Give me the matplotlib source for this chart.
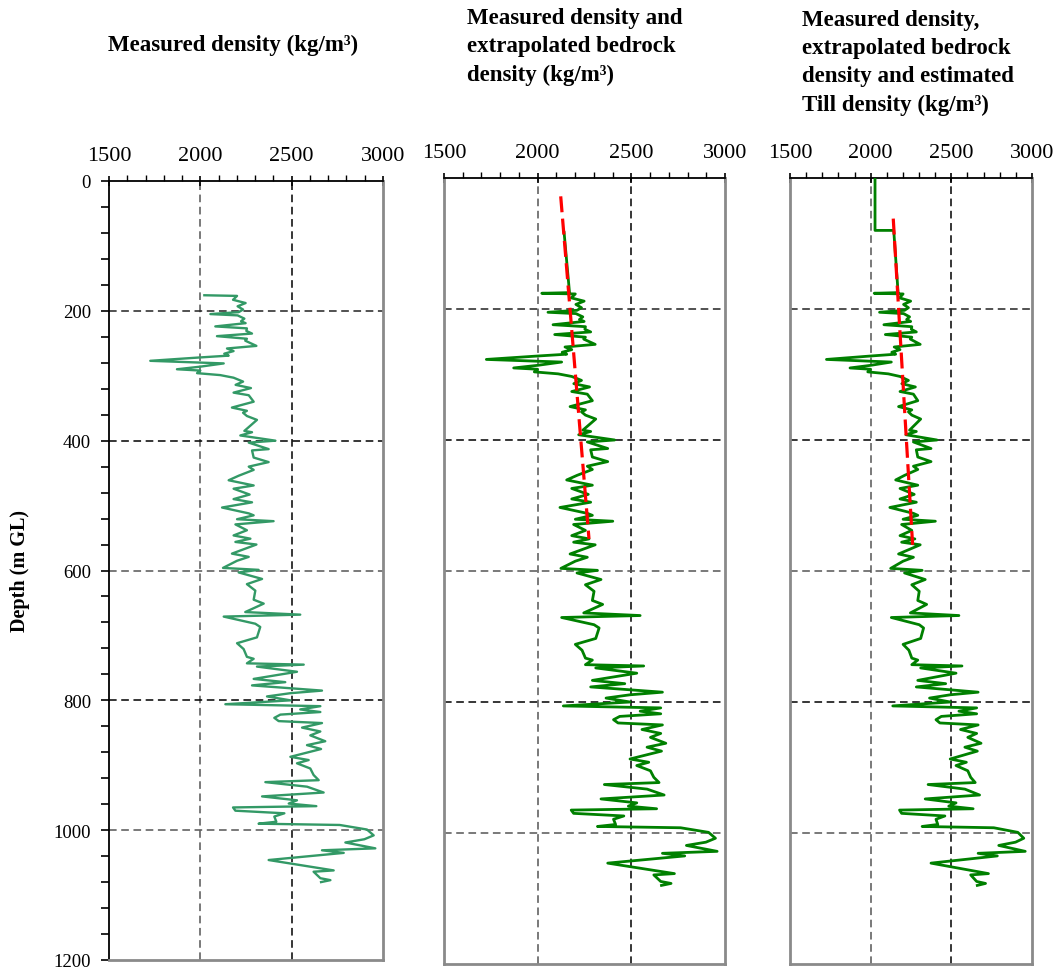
import matplotlib
matplotlib.use('Agg')
import matplotlib.pyplot as plt
from matplotlib.ticker import MultipleLocator

plt.rcParams['font.family'] = ['Liberation Serif', 'DejaVu Serif']

# ---------------- data ----------------
depth = [176, 177, 183, 188, 193, 198, 202, 205, 207, 212, 216, 219, 224, 227, 231, 235, 239, 243, 246, 254,
         258, 262, 266, 269, 272, 277, 281, 286, 290, 292, 296, 299, 303, 309, 314, 319, 326, 330, 340, 349,
         354, 357, 362, 368, 385, 387, 392, 400, 403, 413, 415, 426, 433, 440, 445, 454, 461, 469, 474, 483,
         490, 495, 503, 512, 515, 521, 524, 529, 538, 546, 551, 556, 560, 574, 579, 585, 596, 599, 603, 613,
         621, 631, 645, 651, 664, 668, 671, 682, 687, 703, 712, 721, 733, 736, 743, 745, 748, 756, 767, 772,
         777, 785, 789, 794, 800, 806, 809, 814, 818, 822, 827, 832, 835, 842, 848, 854, 863, 869, 875, 887,
         892, 897, 905, 915, 923, 926, 933, 942, 948, 954, 959, 963, 965, 970, 974, 979, 987, 990, 992, 999,
         1008, 1014, 1019, 1028, 1031, 1035, 1046, 1062, 1064, 1074, 1077, 1080]
density = [2022, 2201, 2179, 2248, 2204, 2234, 2210, 2055, 2204, 2241, 2223, 2248, 2082, 2255, 2252, 2283, 2091, 2255, 2246, 2307,
           2146, 2182, 2131, 2155, 1987, 1726, 2128, 2000, 1872, 2000, 1982, 2109, 2182, 2234, 2193, 2277, 2182, 2265, 2292, 2173,
           2255, 2234, 2255, 2310, 2241, 2283, 2219, 2411, 2265, 2374, 2283, 2292, 2374, 2265, 2292, 2210, 2155, 2292, 2182, 2270,
           2182, 2283, 2119, 2265, 2292, 2201, 2401, 2192, 2255, 2182, 2274, 2192, 2307, 2173, 2265, 2201, 2124, 2319, 2210, 2338,
           2255, 2301, 2292, 2347, 2246, 2547, 2128, 2301, 2328, 2310, 2201, 2237, 2255, 2292, 2255, 2566, 2310, 2529, 2292, 2465,
           2283, 2666, 2493, 2365, 2493, 2137, 2657, 2547, 2657, 2438, 2405, 2429, 2666, 2557, 2657, 2602, 2684, 2584, 2661, 2493,
           2593, 2529, 2602, 2620, 2648, 2356, 2584, 2675, 2338, 2529, 2484, 2635, 2179, 2192, 2460, 2405, 2416, 2319, 2763, 2912,
           2949, 2898, 2794, 2958, 2666, 2785, 2374, 2730, 2620, 2657, 2712, 2661]

# extrapolated bedrock density (red dashed line)
bedrock_depth_p2 = [28, 551]
bedrock_dens_p2 = [2123, 2274]
bedrock_depth_p3 = [62, 560]
bedrock_dens_p3 = [2140, 2260]

# prepended segments of the green curve
p2_top_depth = [83, 175]
p2_top_dens = [2141, 2170]
p3_top_depth = [0, 80, 80, 175]
p3_top_dens = [2027, 2027, 2143, 2170]

x_ticks = [1500, 2000, 2500, 3000]
y_ticks = [0, 200, 400, 600, 800, 1000, 1200]

titles = ['Measured density (kg/m³)',
          'Measured density and\nextrapolated bedrock\ndensity (kg/m³)',
          'Measured density,\nextrapolated bedrock\ndensity and estimated\nTill density (kg/m³)']

# ---------------- figure ----------------
W, H = 1055, 970
fig = plt.figure(figsize=(W / 100, H / 100), dpi=100)


def add_ax(l, r, t, b):
    return fig.add_axes([l / W, 1 - b / H, (r - l) / W, (b - t) / H])


ax1 = add_ax(109, 383, 182, 961)
ax2 = add_ax(444, 725, 179, 965)
ax3 = add_ax(790, 1032, 179, 965)

dash = (0, (5, 3))
for i, ax in enumerate([ax1, ax2, ax3]):
    ax.set_xlim(1500, 3000)
    ax.set_ylim(1200, 0)
    ax.xaxis.tick_top()
    ax.set_xticks(x_ticks)
    ax.xaxis.set_minor_locator(MultipleLocator(100))
    ax.tick_params(axis='x', which='major', direction='inout', length=7, width=1.2,
                   labelsize=16, pad=8)
    ax.tick_params(axis='x', which='minor', direction='out', length=4, width=1.0)
    for s in ['right', 'bottom']:
        ax.spines[s].set_color('#8a8a8a')
        ax.spines[s].set_linewidth(2.0)
    ax.spines['top'].set_color('black')
    ax.spines['top'].set_linewidth(1.3)
    if i == 0:
        ax.set_yticks(y_ticks)
        ax.yaxis.set_minor_locator(MultipleLocator(40))
        ax.tick_params(axis='y', which='both', direction='out', length=6, width=1.2,
                       labelsize=13.5, pad=7)
        ax.spines['left'].set_color('black')
        ax.spines['left'].set_linewidth(1.3)
    else:
        ax.set_yticks([])
        ax.spines['left'].set_color('#8a8a8a')
        ax.spines['left'].set_linewidth(2.0)
    # dashed grid lines
    ax.axvline(2000, ls=dash, lw=1.1, color='#555555', zorder=1)
    ax.axvline(2500, ls=dash, lw=1.1, color='black', zorder=1)
    for d, c in zip([200, 400, 600, 800, 1000], ['#222222', 'black', '#555555', 'black', '#555555']):
        ax.axhline(d, ls=dash, lw=1.1, color=c, zorder=1)

# panel 1
ax1.plot(density, depth, color='#339966', lw=1.7, zorder=3)

# panel 2
ax2.plot(p2_top_dens + density, p2_top_depth + depth, color='#008000', lw=2.0, zorder=3)
ax2.plot(bedrock_dens_p2, bedrock_depth_p2, color='red', lw=2.3, ls=(0, (5, 2)), zorder=4)

# panel 3
ax3.plot(p3_top_dens + density, p3_top_depth + depth, color='#008000', lw=2.0, zorder=3)
ax3.plot(bedrock_dens_p3, bedrock_depth_p3, color='red', lw=2.3, ls=(0, (5, 2)), zorder=4)

# titles
fig.text(108 / W, 1 - 45 / H, titles[0], fontweight='bold', fontsize=16.5, ha='left', va='center')
fig.text(467 / W, 1 - 8 / H, titles[1], fontweight='bold', fontsize=16.5, ha='left', va='top', linespacing=1.45)
fig.text(802 / W, 1 - 10 / H, titles[2], fontweight='bold', fontsize=16.5, ha='left', va='top', linespacing=1.45)

fig.text(20 / W, 1 - 571 / H, 'Depth (m GL)', fontweight='bold', fontsize=14.5, rotation=90,
         ha='center', va='center')

fig.savefig('out.png', dpi=100)
